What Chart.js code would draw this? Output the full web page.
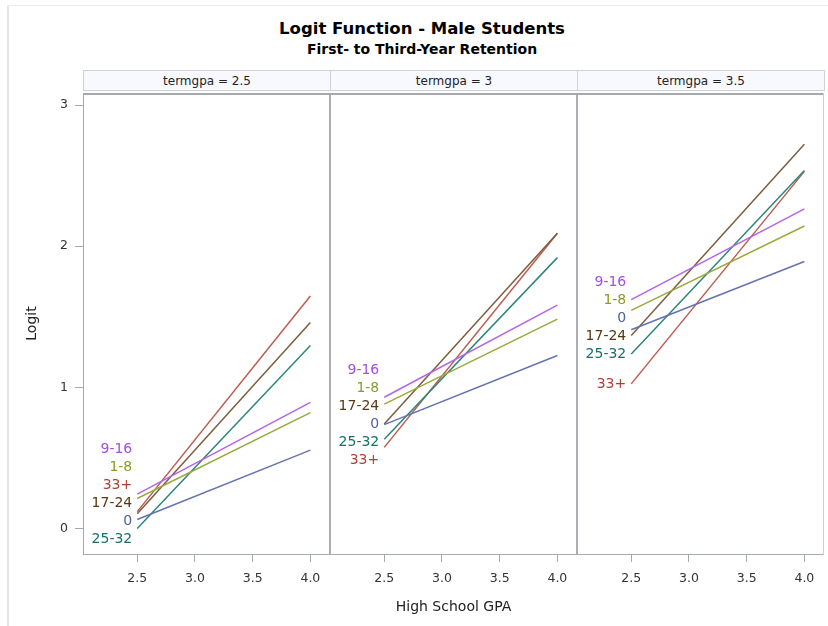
<!DOCTYPE html>
<html>
<head>
<meta charset="utf-8">
<script src="https://cdn.jsdelivr.net/npm/chart.js@4.4.1/dist/chart.umd.min.js"></script>
<style>
  html,body{margin:0;padding:0;background:#fff;}
  body{width:828px;height:626px;overflow:hidden;position:relative;font-family:"DejaVu Sans","Liberation Sans",Arial,sans-serif;}
  #frame{position:absolute;left:7px;top:5px;width:840px;height:640px;border-left:2px solid #e4e4e4;border-top:1px solid #ececec;}
  .title{position:absolute;left:0;width:844px;text-align:center;color:#000;font-weight:bold;white-space:nowrap;}
  #t1{top:19px;font-size:16.5px;}
  #t2{top:41px;font-size:14px;}
  .hdr{position:absolute;top:70px;height:21px;background:#f8f9fe;border:1px solid #d2d2d2;box-sizing:border-box;
       font-size:12px;color:#222;text-align:center;line-height:20px;white-space:nowrap;}
  canvas{position:absolute;left:0;top:0;}
</style>
</head>
<body>
<div id="frame"></div>
<div class="title" id="t1">Logit Function - Male Students</div>
<div class="title" id="t2">First- to Third-Year Retention</div>
<div id="hdrs"></div>
<canvas id="c0" width="828" height="626"></canvas>
<canvas id="c1" width="828" height="626"></canvas>
<canvas id="c2" width="828" height="626"></canvas>
<script>
// ---------------- data ----------------
const groups = ['0', '1-8', '9-16', '17-24', '25-32', '33+'];
const hsGpa = [2.5, 4.0];
const termGpa = ['2.5', '3', '3.5'];
// logit at High School GPA 2.5 and 4.0, per group, for each termgpa panel
const logitLow25  = [0.064, 0.213, 0.244, 0.105, 0.000, 0.120];
const logitHigh25 = [0.556, 0.821, 0.894, 1.460, 1.297, 1.647];
const logitLow30  = [0.736, 0.881, 0.930, 0.741, 0.632, 0.575];
const logitHigh30 = [1.226, 1.483, 1.583, 2.092, 1.919, 2.092];
const logitLow35  = [1.408, 1.545, 1.621, 1.368, 1.237, 1.025];
const logitHigh35 = [1.892, 2.143, 2.264, 2.722, 2.536, 2.530];
const xTicks = [2.5, 3.0, 3.5, 4.0];
const yTicks = [0, 1, 2, 3];

// ---------------- styles ----------------
const lineColors  = ['#6373b2', '#9aa93c', '#b464ea', '#7d5c3c', '#2c857a', '#bd5b4f'];
const labelColors = ['#4f60a2', '#8a9a26', '#a24fe0', '#5a3712', '#157067', '#ad3f33'];
const panels = [
  {low: logitLow25, high: logitHigh25, left: 83,  right: 330},
  {low: logitLow30, high: logitHigh30, left: 330, right: 577},
  {low: logitLow35, high: logitHigh35, left: 577, right: 824}
];
const PLOT_TOP = 93, PLOT_BOTTOM = 554, W = 828, H = 626;
const FONT = '"DejaVu Sans","Liberation Sans",Arial,sans-serif';

// panel headers
const hdrs = document.getElementById('hdrs');
panels.forEach((p, i) => {
  const d = document.createElement('div');
  d.className = 'hdr';
  d.style.left = p.left + 'px';
  d.style.width = (p.right - p.left + 1) + 'px';
  d.textContent = 'termgpa = ' + termGpa[i];
  hdrs.appendChild(d);
});

// border plugin
const borderPlugin = {
  id: 'panelBorder',
  afterDraw(chart, args, opts) {
    const a = chart.chartArea, ctx = chart.ctx;
    ctx.save();
    ctx.strokeStyle = '#a6a9ad';
    ctx.lineWidth = 1;
    ctx.beginPath(); ctx.moveTo(a.left, a.bottom + 0.5); ctx.lineTo(a.right, a.bottom + 0.5); ctx.stroke();
    ctx.lineWidth = 2;
    ctx.beginPath(); ctx.moveTo(a.left, a.top + 1); ctx.lineTo(a.right, a.top + 1); ctx.stroke();
    const lx = a.left + (opts.outerLeft ? 0.5 : 0);
    ctx.lineWidth = opts.outerLeft ? 1 : 1.5;
    ctx.beginPath(); ctx.moveTo(lx, a.top); ctx.lineTo(lx, a.bottom + 1); ctx.stroke();
    if (opts.outerRight) { ctx.strokeStyle = '#cfcfcf'; ctx.lineWidth = 1; }
    else ctx.lineWidth = 1.5;
    const rx = a.right - (opts.outerRight ? 0.5 : 0);
    ctx.beginPath(); ctx.moveTo(rx, a.top); ctx.lineTo(rx, a.bottom + 1); ctx.stroke();
    ctx.restore();
  }
};

// group labels at the left end of each line, with collision avoidance
const labelPlugin = {
  id: 'groupLabels',
  afterDatasetsDraw(chart) {
    const xs = chart.scales.x, ys = chart.scales.y, ctx = chart.ctx, a = chart.chartArea;
    const gap = 18, lift = 7;
    const items = chart.data.datasets.map((ds, i) => ({
      text: ds.label, color: labelColors[i],
      x: xs.getPixelForValue(ds.data[0].x),
      y0: ys.getPixelForValue(ds.data[0].y)
    }));
    items.sort((p, q) => p.y0 - q.y0);
    let clusters = items.map(it => ({items: [it], c: it.y0}));
    const top = c => c.c - (c.items.length - 1) * gap / 2;
    const bot = c => c.c + (c.items.length - 1) * gap / 2;
    const maxB = a.bottom - 15;
    let changed = true;
    while (changed) {
      changed = false;
      clusters.forEach(c => { if (bot(c) > maxB) c.c -= bot(c) - maxB; });
      for (let i = 0; i < clusters.length - 1; i++) {
        if (top(clusters[i + 1]) - bot(clusters[i]) < gap) {
          const merged = clusters[i].items.concat(clusters[i + 1].items);
          const c = merged.reduce((s, it) => s + it.y0, 0) / merged.length - lift;
          clusters.splice(i, 2, {items: merged, c});
          changed = true;
          break;
        }
      }
    }
    ctx.save();
    ctx.font = '14px ' + FONT;
    ctx.textAlign = 'right';
    ctx.textBaseline = 'middle';
    clusters.forEach(c => {
      c.items.forEach((it, k) => {
        ctx.fillStyle = it.color;
        ctx.fillText(it.text, it.x - 5, top(c) + k * gap);
      });
    });
    ctx.restore();
  }
};

panels.forEach((p, idx) => {
  const datasets = groups.map((g, i) => ({
    label: g,
    data: hsGpa.map((x, k) => ({x, y: k === 0 ? p.low[i] : p.high[i]})),
    borderColor: lineColors[i],
    borderWidth: 1.5,
    pointRadius: 0,
    tension: 0,
    fill: false
  }));
  const first = idx === 0;
  new Chart(document.getElementById('c' + idx), {
    type: 'line',
    data: {datasets},
    plugins: [borderPlugin, labelPlugin],
    options: {
      responsive: false,
      animation: false,
      events: [],
      layout: {padding: {left: first ? 0 : p.left, right: W - p.right, top: PLOT_TOP, bottom: 0}},
      plugins: {
        legend: {display: false},
        tooltip: {enabled: false},
        panelBorder: {outerLeft: first, outerRight: idx === 2}
      },
      scales: {
        x: {
          type: 'linear', min: 2.03, max: 4.17,
          afterBuildTicks: s => { s.ticks = xTicks.map(v => ({value: v})); },
          afterFit: s => { s.height = H - PLOT_BOTTOM; },
          ticks: {callback: v => Number(v).toFixed(1), color: '#333', font: {family: FONT, size: 12.5}, padding: 9, maxRotation: 0, autoSkip: false},
          grid: {drawOnChartArea: false, drawTicks: true, tickLength: 8, color: '#a6a9ad'},
          border: {display: false},
          title: {display: idx === 1, text: 'High School GPA', color: '#222', font: {family: FONT, size: 14}, padding: {top: 0, bottom: 10}}
        },
        y: {
          display: first,
          min: -0.18, max: 3.085,
          afterBuildTicks: s => { s.ticks = yTicks.map(v => ({value: v})); },
          afterFit: s => { s.width = first ? 83 : 0; },
          ticks: {callback: v => String(v), color: '#333', font: {family: FONT, size: 12.5}, padding: 7},
          grid: {drawOnChartArea: false, drawTicks: true, tickLength: 8, color: '#a6a9ad'},
          border: {display: false},
          title: {display: true, text: 'Logit', color: '#222', font: {family: FONT, size: 14}, padding: {top: 24, bottom: 0}}
        }
      }
    }
  });
});
</script>
</body>
</html>
